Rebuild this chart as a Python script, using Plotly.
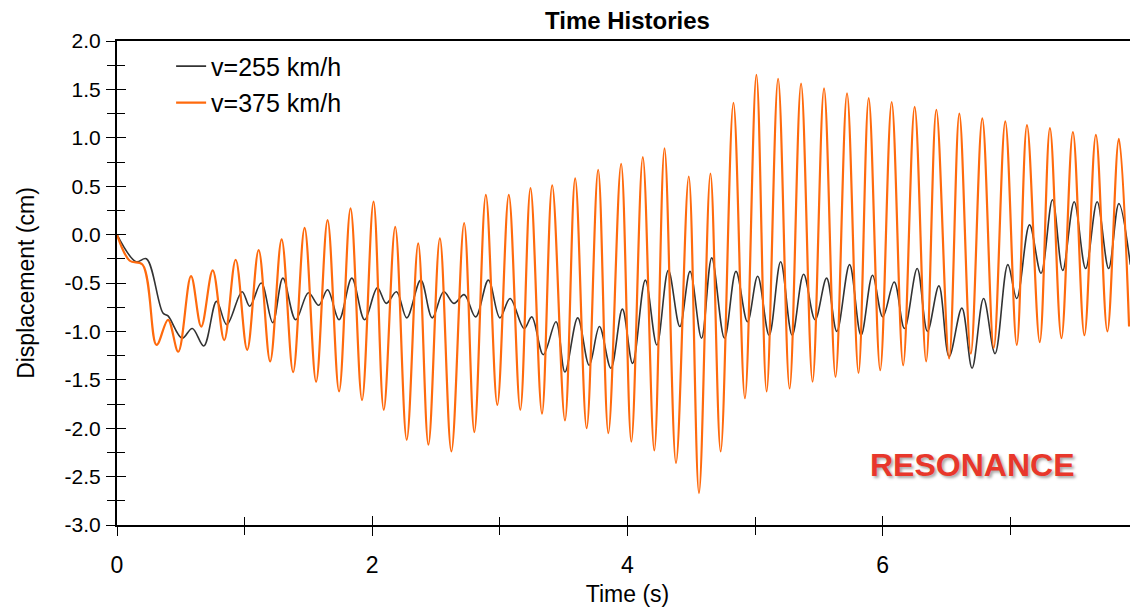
import plotly.graph_objects as go

# ---- data (extrema of each time history) ----
t_255 = [0.00, 0.15, 0.23, 0.36, 0.40, 0.51, 0.59, 0.68, 0.78, 0.86, 0.98, 1.04, 1.13, 1.22,
         1.30, 1.40, 1.50, 1.58, 1.65, 1.74, 1.84, 1.94, 2.04, 2.11, 2.19, 2.27, 2.38, 2.47,
         2.56, 2.64, 2.72, 2.81, 2.91, 3.00, 3.08, 3.19, 3.25, 3.34, 3.44, 3.51, 3.61, 3.70,
         3.78, 3.87, 3.96, 4.04, 4.14, 4.23, 4.32, 4.41, 4.49, 4.58, 4.66, 4.76, 4.85, 4.94,
         5.02, 5.11, 5.20, 5.29, 5.38, 5.47, 5.56, 5.64, 5.74, 5.83, 5.92, 6.00, 6.09, 6.17,
         6.27, 6.35, 6.44, 6.52, 6.62, 6.70, 6.79, 6.88, 6.98, 7.05, 7.15, 7.24, 7.33, 7.41,
         7.50, 7.59, 7.68, 7.77, 7.85, 7.94]
d_255 = [0.00, -0.28, -0.25, -0.81, -0.84, -1.07, -0.97, -1.15, -0.69, -0.93, -0.59, -0.74, -0.50, -0.91,
         -0.45, -0.88, -0.60, -0.73, -0.57, -0.88, -0.45, -0.88, -0.55, -0.71, -0.59, -0.86, -0.47, -0.86,
         -0.59, -0.71, -0.62, -0.85, -0.47, -0.86, -0.66, -0.97, -0.85, -1.24, -0.90, -1.42, -0.86, -1.35,
         -0.95, -1.38, -0.77, -1.33, -0.47, -1.14, -0.37, -0.95, -0.38, -1.07, -0.24, -1.07, -0.38, -0.90,
         -0.43, -1.04, -0.28, -1.04, -0.41, -0.88, -0.45, -1.00, -0.31, -1.04, -0.42, -0.85, -0.49, -0.97,
         -0.35, -1.00, -0.53, -1.26, -0.76, -1.38, -0.66, -1.23, -0.31, -0.66, 0.10, -0.40, 0.36, -0.37,
         0.34, -0.35, 0.34, -0.35, 0.32, -0.31]

t_375 = [0.00, 0.10, 0.20, 0.31, 0.40, 0.48, 0.58, 0.66, 0.75, 0.84, 0.93, 1.02, 1.11, 1.20, 1.29,
         1.38, 1.47, 1.56, 1.65, 1.74, 1.83, 1.92, 2.01, 2.09, 2.18, 2.27, 2.36, 2.44, 2.53, 2.62,
         2.72, 2.80, 2.89, 2.98, 3.07, 3.16, 3.24, 3.33, 3.41, 3.51, 3.59, 3.68, 3.77, 3.85, 3.95,
         4.03, 4.12, 4.21, 4.29, 4.38, 4.48, 4.56, 4.65, 4.73, 4.83, 4.92, 5.01, 5.09, 5.18, 5.27,
         5.36, 5.45, 5.54, 5.63, 5.72, 5.81, 5.89, 5.98, 6.07, 6.16, 6.25, 6.34, 6.42, 6.52, 6.60,
         6.69, 6.78, 6.87, 6.96, 7.05, 7.13, 7.23, 7.31, 7.40, 7.49, 7.58, 7.67, 7.76, 7.85, 7.93]
d_375 = [0.00, -0.27, -0.31, -1.14, -0.88, -1.21, -0.43, -0.95, -0.37, -1.09, -0.26, -1.19, -0.16, -1.31, -0.05,
         -1.42, 0.07, -1.52, 0.15, -1.62, 0.27, -1.71, 0.34, -1.81, 0.08, -2.12, -0.09, -2.17, -0.04, -2.24,
         0.12, -2.04, 0.41, -1.76, 0.41, -1.81, 0.48, -1.85, 0.51, -1.92, 0.58, -2.00, 0.67, -2.05, 0.73,
         -2.14, 0.80, -2.23, 0.89, -2.36, 0.60, -2.67, 0.63, -2.24, 1.36, -1.69, 1.65, -1.62, 1.61, -1.59,
         1.56, -1.52, 1.51, -1.47, 1.46, -1.43, 1.41, -1.40, 1.37, -1.35, 1.32, -1.31, 1.29, -1.28, 1.25,
         -1.23, 1.20, -1.17, 1.17, -1.14, 1.13, -1.11, 1.10, -1.07, 1.06, -1.04, 1.03, -1.00, 0.99, -0.95]

series_names = ["v=255 km/h", "v=375 km/h"]
series_colors = ["#333333", "#FF6A0D"]
title_text = "Time Histories"
x_title = "Time (s)"
y_title = "Displacement (cm)"
note_text = "RESONANCE"
x_ticks = [0, 2, 4, 6, 8]
x_minor = [1, 3, 5, 7]
y_ticks = [2, 1.5, 1, 0.5, 0, -0.5, -1, -1.5, -2, -2.5, -3]
y_ticktext = ["2.0", "1.5", "1.0", "0.5", "0.0", "-0.5", "-1.0", "-1.5", "-2.0", "-2.5", "-3.0"]

FONT = "Liberation Sans, Arial, sans-serif"

fig = go.Figure()
fig.add_trace(go.Scatter(x=t_255, y=d_255, mode="lines", name=series_names[0],
                         line=dict(color=series_colors[0], width=1.6, shape="spline", smoothing=1.0),
                         legendgroup="a"))
fig.add_trace(go.Scatter(x=t_375, y=d_375, mode="lines", name=series_names[1],
                         line=dict(color=series_colors[1], width=2.2, shape="spline", smoothing=1.0),
                         legendgroup="b"))
# empty trace to anchor the overlay axes that carry the inner halves of the ticks
fig.add_trace(go.Scatter(x=[], y=[], xaxis="x2", yaxis="y2", showlegend=False, hoverinfo="skip"))

xr = [0, 8]
yr = [-3, 2]
tk = dict(ticklen=9, tickwidth=1.3, tickcolor="black")
mk = dict(ticklen=8, tickwidth=1.3, tickcolor="black")

fig.update_layout(
    width=1138, height=608,
    paper_bgcolor="white", plot_bgcolor="white",
    margin=dict(l=117, r=0, t=41, b=83),
    font=dict(family=FONT, color="black", size=20),
    title=dict(text="<b>" + title_text + "</b>", x=0.5, xanchor="center", xref="paper",
               y=1 - 21 / 608, yanchor="middle", font=dict(size=24, family=FONT)),
    showlegend=True,
    legend=dict(x=0.053, y=0.995, xanchor="left", yanchor="top",
                bgcolor="rgba(0,0,0,0)", font=dict(size=25, family=FONT),
                traceorder="grouped", tracegroupgap=1),
    xaxis=dict(range=xr, showgrid=False, zeroline=False, showline=True, linecolor="black",
               linewidth=2, mirror=True, ticks="outside", **tk, tickvals=x_ticks,
               ticktext=[str(v) for v in x_ticks],
               minor=dict(tickvals=x_minor, ticks="outside", **mk),
               tickfont=dict(size=23, family=FONT), ticklabelstandoff=9,
               title=dict(text=x_title, font=dict(size=23), standoff=9)),
    yaxis=dict(range=yr, showgrid=False, zeroline=False, showline=True, linecolor="black",
               linewidth=2, ticks="outside", **tk, tickvals=y_ticks, ticktext=y_ticktext,
               minor=dict(dtick=0.25, ticks="outside", **mk),
               tickfont=dict(size=21), ticklabelstandoff=1,
               title=dict(text=y_title, font=dict(size=23), standoff=24)),
    xaxis2=dict(range=xr, overlaying="x", anchor="y", showgrid=False, zeroline=False,
                showline=False, ticks="inside", **tk, tickvals=x_ticks, showticklabels=False,
                minor=dict(tickvals=x_minor, ticks="inside", **mk)),
    yaxis2=dict(range=yr, overlaying="y", anchor="x", side="left", showgrid=False, zeroline=False,
                showline=False, ticks="inside", **tk, tickvals=y_ticks, showticklabels=False,
                minor=dict(dtick=0.25, ticks="inside", **mk)),
    annotations=[dict(text="<b>" + note_text + "</b>", xref="paper", yref="paper",
                      x=(972 - 117) / 1021, y=(525 - 465) / 484, xanchor="center", yanchor="middle",
                      showarrow=False,
                      font=dict(size=32, color="#E8372B", family=FONT,
                                shadow="2px 2px 3px rgba(0,0,0,0.35)"))],
)

fig.write_html("out.html", config={"displayModeBar": False},
               post_script="document.body.style.margin='0';"
                           "document.body.style.overflow='hidden';"
                           "document.documentElement.style.overflow='hidden';")
